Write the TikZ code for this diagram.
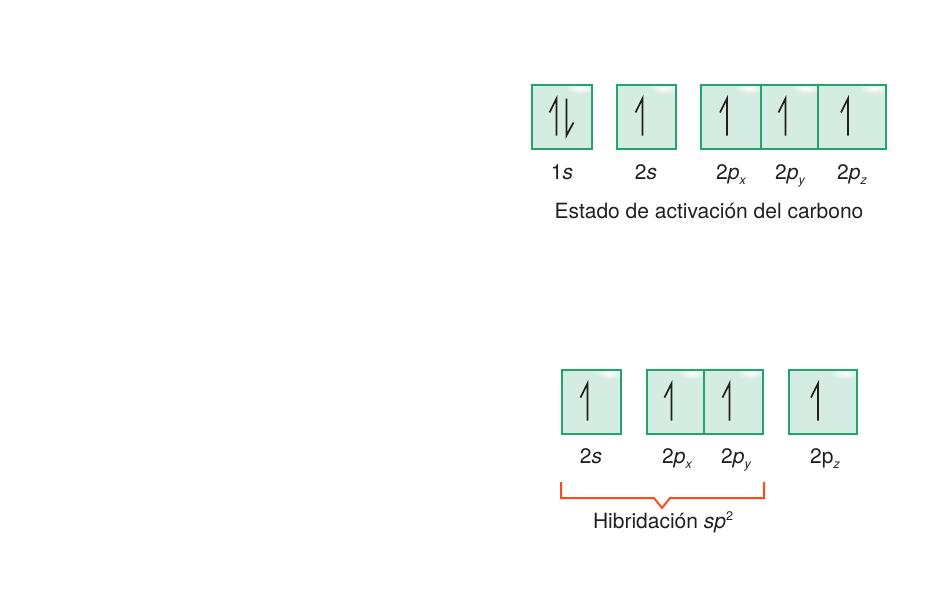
\documentclass[tikz,border=0pt]{standalone}
\usepackage{fontspec}
\setmainfont{TeX Gyre Heros}
\definecolor{orbgreen}{HTML}{22A46C}
\definecolor{orbfill}{HTML}{D4ECE1}
\definecolor{txt}{HTML}{231F20}
\definecolor{brace}{HTML}{FF4A1A}
\newcommand\subx[1]{\raisebox{-5.5pt}{\fontsize{12.5}{12.5}\selectfont\itshape #1}}
\newcommand\supx[1]{\raisebox{8pt}{\fontsize{12.5}{12.5}\selectfont #1}}
\newcommand\orbbox[4]{% name, center x, center y, width
  \node[orb, minimum width=#4pt] (#1) at (#2,#3) {};
  \begin{scope}
    \clip ([xshift=1pt,yshift=-1pt]#1.north west) rectangle ([xshift=-1pt,yshift=1pt]#1.south east);
    \shade[inner color=white, outer color=orbfill] ([xshift=-12pt,yshift=-3pt]#1.north east) ellipse [x radius=15pt, y radius=6pt];
  \end{scope}
  \draw[orbgreen, line width=1.8pt] (#1.north west) rectangle (#1.south east);
}
\newcommand\uparr[2]{\draw[spin, shift={(#1)}] (#2,18.5) -- (#2,-18.5) -- ++(-7,14);}
\newcommand\dnarr[2]{\draw[spin, shift={(#1)}] (#2,-18.5) -- (#2,18.5) -- ++(7,-13);}
\begin{document}
\begin{tikzpicture}[x=1pt,y=-1pt,
  orb/.style={fill=orbfill, minimum height=64pt, inner sep=0pt, outer sep=0pt},
  spin/.style={draw=txt, line width=1.7pt, line join=miter, line cap=butt},
  lbl/.style={anchor=base, inner sep=0pt, text=txt, font=\fontsize{21}{23}\selectfont},
  bracepath/.style={draw=brace, line width=2pt, line join=miter}]
\useasboundingbox (0,0) rectangle (950,608);
% top row
\orbbox{a1s}{562}{117}{60}
\orbbox{a2s}{646.5}{117}{59}
\orbbox{apx}{731}{117}{60}
\orbbox{apy}{789.5}{117}{57}
\orbbox{apz}{852}{117}{68}
\uparr{a1s.center}{-5.5}
\dnarr{a1s.center}{4.5}
\uparr{a2s.center}{-4}
\uparr{apx.center}{-4}
\uparr{apy.center}{-4}
\uparr{apz.center}{-4}
\node[lbl] (l1s) at (562,179) {1\textit{s}};
\node[lbl] (l2s) at (646,179) {2\textit{s}};
\node[lbl] (lpx) at (731,179) {2\textit{p}\subx{x}};
\node[lbl] (lpy) at (790,179) {2\textit{p}\subx{y}};
\node[lbl] (lpz) at (852,179) {2\textit{p}\subx{z}};
\node[lbl] (t1) at (709,218) {Estado de activación del carbono};
% bottom row
\orbbox{b2s}{591.5}{402}{59}
\orbbox{bpx}{675.5}{402}{57}
\orbbox{bpy}{733.5}{402}{59}
\orbbox{bpz}{823}{402}{68}
\uparr{b2s.center}{-4}
\uparr{bpx.center}{-4}
\uparr{bpy.center}{-4}
\uparr{bpz.center}{-5}
\node[lbl] (m2s) at (591,463) {2\textit{s}};
\node[lbl] (mpx) at (677,463) {2\textit{p}\subx{x}};
\node[lbl] (mpy) at (736,463) {2\textit{p}\subx{y}};
\node[lbl] (mpz) at (825,463) {2p\subx{z}};
% bracket
\coordinate (bl) at (561,482);
\coordinate (br) at (764,482);
\coordinate (btip) at (662,508);
\draw[bracepath] (bl) -- (561,498) -- (654,498) -- (btip) -- (670,498) -- (764,498) -- (br);
\node[lbl] (t2) at (663,528) {Hibridación \textit{sp}\supx{2}};
\end{tikzpicture}
\end{document}
